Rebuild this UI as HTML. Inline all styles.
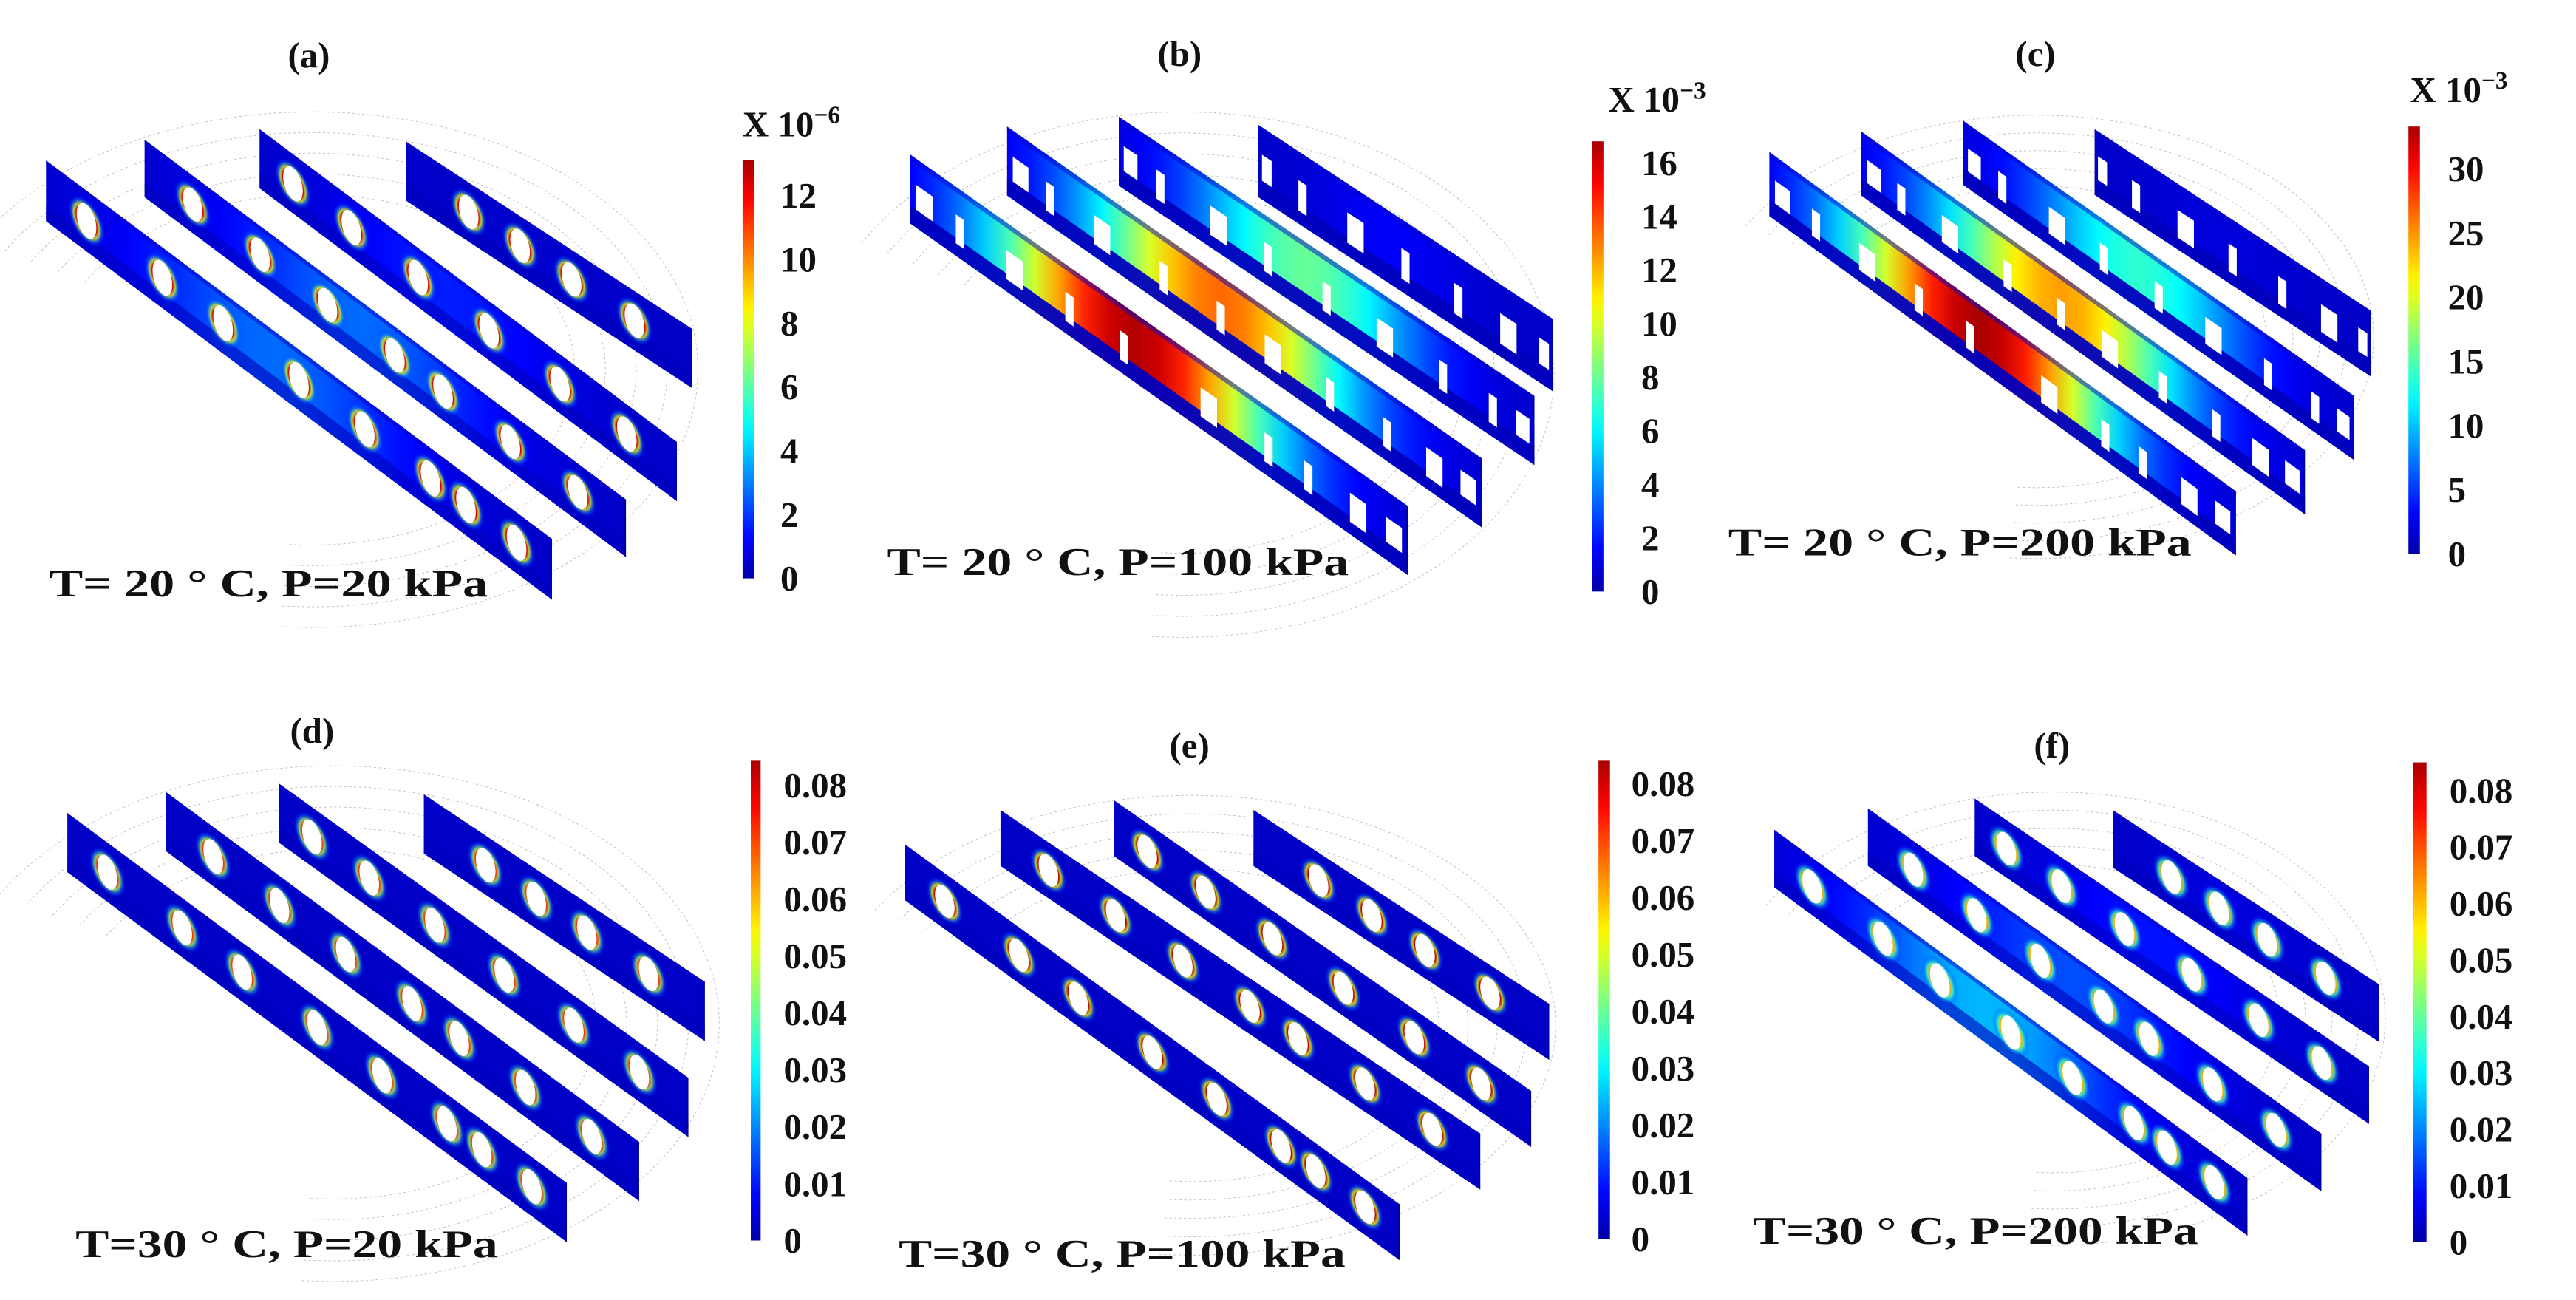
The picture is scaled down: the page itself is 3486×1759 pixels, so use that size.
<!DOCTYPE html>
<html><head><meta charset="utf-8"><style>
html,body{margin:0;padding:0;background:#fff;}
svg{display:block;}
text{font-family:"Liberation Serif",serif;font-weight:bold;fill:#111;}
</style></head><body>
<svg id="fig" xmlns="http://www.w3.org/2000/svg" width="3486" height="1759" viewBox="0 0 1568 791.2">
<defs id="defs"></defs>
<rect x="0" y="0" width="1568" height="791.2" fill="#fff"/>
</svg>
<script>
// ---- data ----
const panelIds = ['a','b','c','d','e','f'];
const plateValsA = [3, 3, 2, 1];            // x1e-6, plate peak along length
const plateValsB = [16, 13, 8, 2];          // x1e-3
const plateValsC = [32, 24, 14, 3];         // x1e-3
const plateValsD = [0.005, 0.005, 0.004, 0.003];
const plateValsE = [0.004, 0.004, 0.004, 0.004];
const plateValsF = [0.026, 0.017, 0.012, 0.008];
const hotVals = [12, 0, 0, 0.07, 0.08, 0.06];
const ticksA = [0, 2, 4, 6, 8, 10, 12];
const ticksB = [0, 2, 4, 6, 8, 10, 12, 14, 16];
const ticksC = [0, 5, 10, 15, 20, 25, 30];
const ticksBottom = [0, 0.01, 0.02, 0.03, 0.04, 0.05, 0.06, 0.07, 0.08];
const tickLabelsBottom = ['0','0.01','0.02','0.03','0.04','0.05','0.06','0.07','0.08'];
const cbarMax = [13.1, 16.8, 33.3, 0.0843, 0.084, 0.085];
const conditionLabels = ['T= 20 \u00B0  C, P=20 kPa','T= 20 \u00B0  C, P=100 kPa','T= 20 \u00B0  C, P=200 kPa',
  'T=30 \u00B0  C, P=20 kPa','T=30 \u00B0  C, P=100 kPa','T=30 \u00B0  C, P=200 kPa'];
const exponents = ['\u22126','\u22123','\u22123','','',''];

// ---- layout (positions / styling) ----
const layout = {
 a:{plates:[[28,97.6,336,328,37],[88,85,381,304,35],[158,78.6,412,269,36],[247,86,421,200,36]],
    holes:'ell', cb:[452,459,97.6,352], lab:475, title:[188,41], cond:[30,297,363], exp:[452,83], arc:[190,225,235,157]},
 b:{plates:[[554,94,857,308,42],[613,77,902,279,42],[681,71,934,241,42],[766,76,945,194,44]],
    holes:'slot', cb:[969,976,86,360], lab:999, title:[718,40], cond:[540,821,350], exp:[979,68], arc:[720,228,226,160]},
 c:{plates:[[1077,92.5,1361,299,39],[1133,80,1403,274,39],[1195,73.5,1433,241,39],[1275,78.6,1443,189,40]],
    holes:'slot', cb:[1466,1473,77,337], lab:1490, title:[1239,40], cond:[1052,1334,338], exp:[1467,62], arc:[1240,205,205,135]},
 d:{plates:[[41,494.8,345,720,36],[101,482,389,695,36],[170,477,419,656,36],[258,483.5,429,597.5,36]],
    holes:'ell', cb:[457,463,463,755], lab:477, title:[190,452], cond:[46,303,765], exp:null, arc:[203,623,235,157]},
 e:{plates:[[551,514,852,733,34],[609,493,901,690,34],[678,487,932,664,34],[763,493,943,611,34]],
    holes:'ell', cb:[973,980,463,754], lab:993, title:[724,461], cond:[547,819,771], exp:null, arc:[725,624,222,140]},
 f:{plates:[[1080,505,1368,717,35],[1137,492,1413,690,35],[1202,486,1442,649,35],[1286,493,1448,599,35]],
    holes:'ell', cb:[1469,1477,464,756], lab:1491, title:[1249,461], cond:[1067,1338,757], exp:null, arc:[1250,620,202,138]}
};
const ellHoles = [[0.08,0.23,0.35,0.5,0.63,0.76,0.83,0.93],[0.1,0.24,0.38,0.52,0.62,0.76,0.9],[0.08,0.22,0.38,0.55,0.72,0.88],[0.22,0.4,0.58,0.8]];
const slotHoles = [[0.1,0.21,0.32,0.43,0.6,0.72,0.8,0.9],[0.09,0.2,0.33,0.45,0.56,0.68,0.8,0.9],[0.1,0.24,0.36,0.5,0.64,0.78,0.9],[0.15,0.33,0.5,0.68,0.85]];

const NS='http://www.w3.org/2000/svg';
const svg=document.getElementById('fig');
const defs=document.getElementById('defs');
function mk(tag,attrs,parent){const e=document.createElementNS(NS,tag);for(const k in attrs)e.setAttribute(k,attrs[k]);(parent||svg).appendChild(e);return e;}
function clamp(x){return Math.max(0,Math.min(1,x));}
function jet(x){x=clamp(x);const r=clamp(1.5-Math.abs(4*x-3)),g=clamp(1.5-Math.abs(4*x-2)),b=clamp(1.5-Math.abs(4*x-1));
 return 'rgb('+Math.round(r*255)+','+Math.round(g*255)+','+Math.round(b*255)+')';}

const plateData={a:plateValsA,b:plateValsB,c:plateValsC,d:plateValsD,e:plateValsE,f:plateValsF};
const tickData={a:ticksA,b:ticksB,c:ticksC,d:ticksBottom,e:ticksBottom,f:ticksBottom};

const cg=mk('linearGradient',{id:'jetv',x1:0,y1:1,x2:0,y2:0},defs);
for(let i=0;i<=20;i++){mk('stop',{offset:i/20,'stop-color':jet(0.04+0.92*i/20)},cg);}
function halo(id,hot){const rg=mk('radialGradient',{id:id,cx:0.5,cy:0.5,r:0.5},defs);
 const h=clamp(hot);
 mk('stop',{offset:0.55,'stop-color':jet(h)},rg);
 mk('stop',{offset:0.68,'stop-color':jet(h*0.65),'stop-opacity':0.8},rg);
 mk('stop',{offset:0.85,'stop-color':jet(0.25),'stop-opacity':0.35},rg);
 mk('stop',{offset:1,'stop-color':jet(0.1),'stop-opacity':0},rg);}

panelIds.forEach((pid,pi)=>{
 const L=layout[pid];
 const vmax=cbarMax[pi];
 const g=mk('g',{});
 
 
 const [acx,acy,arx,ary]=L.arc;
 for(let k=0;k<5;k++){const s=1-k*0.08;let pts=[];
  for(let a=-150;a<=95;a+=5){const t=a*Math.PI/180;pts.push((acx+arx*s*Math.cos(t)).toFixed(1)+','+(acy+ary*s*Math.sin(t)).toFixed(1));}
  const pl=mk('polyline',{points:pts.join(' '),fill:'none',stroke:'#b5b5b5','stroke-width':0.45,'stroke-dasharray':'1.5 1.5','stroke-opacity':0.8},g);
  
  
 }
 const haloId='halo_'+pid;
 halo(haloId,hotVals[pi]/vmax);
 const vals=plateData[pid];
 for(let i=3;i>=0;i--){
  const [x0,y0,x1,y1,h]=L.plates[i];
  const dx=x1-x0, dy=y1-y0;
  const peak=vals[i]/vmax;
  const gid='pg_'+pid+i;
  const lg=mk('linearGradient',{id:gid,x1:0,y1:0,x2:1,y2:0,gradientUnits:'userSpaceOnUse'},defs);
  for(let s=0;s<=20;s++){const t=s/20;const v=0.07+Math.max(0,peak-0.07)*Math.exp(-Math.pow((t-0.45)/0.27,2));
   mk('stop',{offset:t,'stop-color':jet(v)},lg);}
  const pg=mk('g',{transform:'matrix('+dx+','+dy+',0,'+h+','+x0+','+y0+')'},g);
  
  
  mk('rect',{x:0,y:0,width:1,height:1,fill:'url(#'+gid+')'},pg);
  mk('rect',{x:0,y:0.74,width:1,height:0.26,fill:jet(0.06),opacity:L.holes==='slot'?0.95:0.6},pg);
  mk('rect',{x:0,y:0,width:1,height:0.08,fill:jet(0.07),opacity:0.5},pg);
  if(L.holes==='ell'){
   ellHoles[i].forEach((t,j)=>{
    const rx=6/dx;
    const hh=mk('ellipse',{cx:t,cy:0.5,rx:rx*1.9,ry:0.37,fill:'url(#'+haloId+')'},pg);
    
    
    const ho=mk('ellipse',{cx:t,cy:0.5,rx:rx,ry:0.27,fill:'#fff'},pg);
    
    
   });
  } else {
   slotHoles[i].forEach((t,j)=>{
    const w=(j%3===1?10:5)/dx;
    const ho=mk('rect',{x:t-w/2,y:0.4,width:w,height:0.42,fill:'#fff'},pg);
    
    
   });
   [0.012,0.955].forEach(u=>{mk('rect',{x:u,y:0.38,width:0.033,height:0.36,fill:'#fff'},pg);});
  }
  mk('rect',{x:0.997,y:0,width:0.003,height:1,fill:jet(0.03)},pg);
 }
 const [cx0,cx1,cyTop,cyBot]=L.cb;
 const yOf=v=>cyBot-(v/vmax)*(cyBot-cyTop);
 const bar=mk('rect',{x:cx0,y:cyTop,width:cx1-cx0,height:cyBot-cyTop,fill:'url(#jetv)'},g);
 
 
 const ticks=tickData[pid];
 ticks.forEach((v,k)=>{
  const lbl=(pid==='d'||pid==='e'||pid==='f')?tickLabelsBottom[k]:String(v);
  const tx=mk('text',{x:L.lab,y:(yOf(v)+7.5).toFixed(1),'font-size':22,'font-family':'Liberation Serif, serif'},g);
  tx.textContent=lbl;
  
  
 });
 if(L.exp){
  const et=mk('text',{x:L.exp[0],y:L.exp[1],'font-size':22,'font-family':'Liberation Serif, serif'},g);
  
  
  et.appendChild(document.createTextNode('X 10'));
  const sup=mk('tspan',{dy:-8,'font-size':15},et);
  sup.textContent=exponents[pi];
 }
 const tt=mk('text',{x:L.title[0],y:L.title[1],'font-size':22,'text-anchor':'middle','font-family':'Liberation Serif, serif'},g);
 tt.textContent='('+pid+')';
 
 
 const ct=mk('text',{x:L.cond[0],y:L.cond[2],'font-size':24,'font-family':'Liberation Serif, serif',textLength:L.cond[1]-L.cond[0],lengthAdjust:'spacingAndGlyphs'},g);
 ct.setAttribute('xml:space','preserve');
 ct.textContent=conditionLabels[pi];
 
 
});
</script>
</body></html>
